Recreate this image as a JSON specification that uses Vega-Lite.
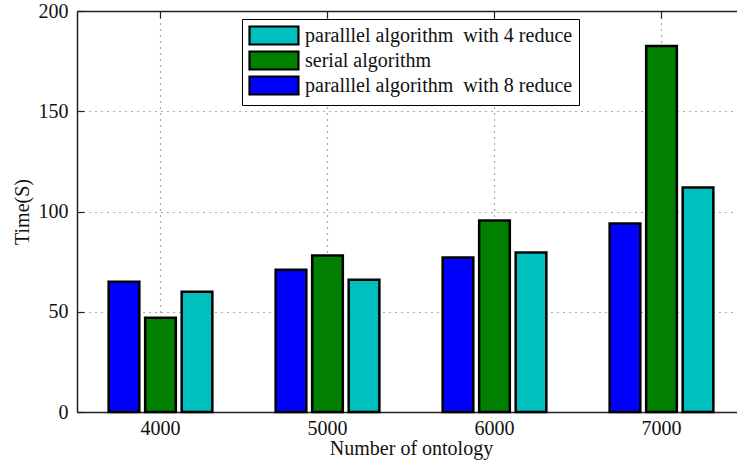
{
  "$schema": "https://vega.github.io/schema/vega-lite/v6.json",
  "width": 660,
  "height": 401,
  "autosize": "none",
  "padding": {"left": 77, "top": 11, "right": 0, "bottom": 52},
  "background": "white",
  "config": {
    "view": {"stroke": null},
    "font": "Liberation Serif",
    "axis": {
      "domainColor": "#222222",
      "domainWidth": 1.5,
      "tickColor": "#222222",
      "tickWidth": 1.2,
      "tickSize": -7,
      "labelFont": "Liberation Serif",
      "labelFontSize": 20,
      "labelColor": "#111111",
      "titleFont": "Liberation Serif",
      "titleFontSize": 20,
      "titleFontWeight": "normal",
      "titleColor": "#111111",
      "gridColor": "#555555",
      "gridDash": [1, 5],
      "gridWidth": 1.2
    }
  },
  "data": {
    "values": [
      {"ontology": 4000, "series": "paralllel algorithm\u00a0 with 8 reduce", "time": 65},
      {"ontology": 4000, "series": "serial algorithm", "time": 47},
      {"ontology": 4000, "series": "paralllel algorithm\u00a0 with 4 reduce", "time": 60},
      {"ontology": 5000, "series": "paralllel algorithm\u00a0 with 8 reduce", "time": 71},
      {"ontology": 5000, "series": "serial algorithm", "time": 78},
      {"ontology": 5000, "series": "paralllel algorithm\u00a0 with 4 reduce", "time": 66},
      {"ontology": 6000, "series": "paralllel algorithm\u00a0 with 8 reduce", "time": 77},
      {"ontology": 6000, "series": "serial algorithm", "time": 95.5},
      {"ontology": 6000, "series": "paralllel algorithm\u00a0 with 4 reduce", "time": 79.5},
      {"ontology": 7000, "series": "paralllel algorithm\u00a0 with 8 reduce", "time": 94},
      {"ontology": 7000, "series": "serial algorithm", "time": 182.5},
      {"ontology": 7000, "series": "paralllel algorithm\u00a0 with 4 reduce", "time": 112}
    ]
  },
  "layer": [
    {
      "mark": {"type": "bar", "stroke": "black", "strokeWidth": 2.5},
      "encoding": {
        "x": {
          "field": "ontology",
          "type": "ordinal",
          "scale": {"range": [0, 668], "paddingInner": 0.344, "paddingOuter": 0.172},
          "axis": {
            "orient": "bottom",
            "title": "Number of ontology",
            "labelAngle": 0,
            "grid": true,
            "labelPadding": 13,
            "titlePadding": 0
          }
        },
        "xOffset": {
          "field": "series",
          "type": "nominal",
          "scale": {
            "domain": ["paralllel algorithm\u00a0 with 8 reduce", "serial algorithm", "paralllel algorithm\u00a0 with 4 reduce"],
            "paddingInner": 0.16,
            "paddingOuter": 0.08
          }
        },
        "y": {
          "field": "time",
          "type": "quantitative",
          "scale": {"domain": [0, 200], "nice": false},
          "axis": {
            "title": "Time(S)",
            "values": [0, 50, 100, 150, 200],
            "grid": true,
            "labelPadding": 16,
            "titlePadding": 6
          }
        },
        "color": {
          "field": "series",
          "type": "nominal",
          "scale": {
            "domain": ["paralllel algorithm\u00a0 with 4 reduce", "serial algorithm", "paralllel algorithm\u00a0 with 8 reduce"],
            "range": ["#00BFBF", "#007F00", "#0000FF"]
          },
          "legend": {
            "orient": "none",
            "legendX": 165,
            "legendY": 8,
            "title": null,
            "symbolType": "M-1,-1H4.44V1H-1Z",
            "symbolSize": 324,
            "symbolStrokeColor": "black",
            "symbolStrokeWidth": 2.2,
            "symbolOpacity": 1,
            "labelFont": "Liberation Serif",
            "labelFontSize": 20,
            "labelColor": "#111111",
            "labelLimit": 400,
            "labelOffset": 36,
            "rowPadding": -2,
            "padding": 6,
            "strokeColor": "black",
            "fillColor": "white",
            "cornerRadius": 0
          }
        }
      }
    },
    {
      "mark": {"type": "bar", "opacity": 0},
      "encoding": {
        "x": {
          "field": "ontology",
          "type": "ordinal",
          "axis": {"orient": "top", "labels": false, "title": null, "grid": false}
        },
        "y": {"field": "time", "type": "quantitative"}
      }
    }
  ],
  "resolve": {"axis": {"x": "independent"}}
}
